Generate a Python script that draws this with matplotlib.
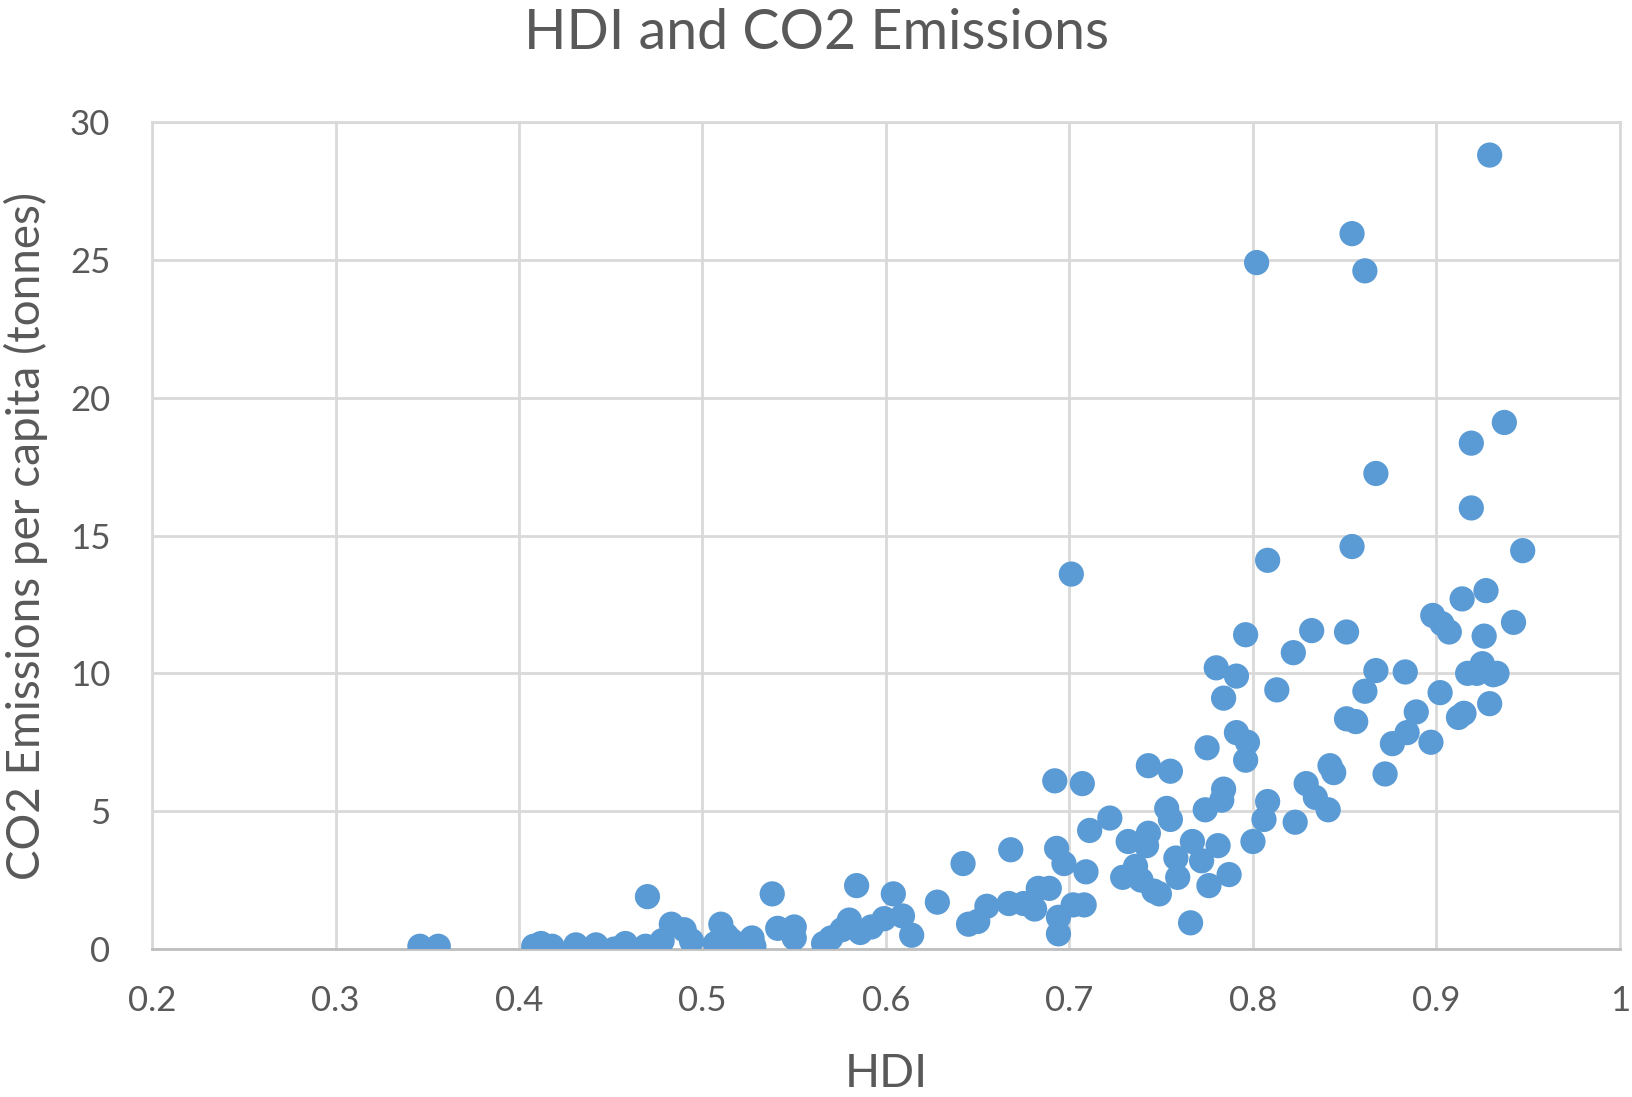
import matplotlib
matplotlib.use("Agg")
import matplotlib.pyplot as plt

hdi = [0.346, 0.356, 0.408, 0.412, 0.418, 0.431, 0.442, 0.452, 0.458, 0.469,
       0.470, 0.478, 0.483, 0.490, 0.494, 0.507, 0.510, 0.513, 0.516, 0.527,
       0.528, 0.538, 0.541, 0.550, 0.550, 0.566, 0.570, 0.576, 0.580, 0.584,
       0.586, 0.592, 0.599, 0.604, 0.609, 0.614, 0.628, 0.642, 0.645, 0.650,
       0.655, 0.667, 0.668, 0.675, 0.681, 0.683, 0.689, 0.692, 0.693, 0.694,
       0.694, 0.697, 0.701, 0.702, 0.707, 0.708, 0.709, 0.711, 0.722, 0.729,
       0.732, 0.736, 0.739, 0.742, 0.743, 0.743, 0.746, 0.749, 0.753, 0.755,
       0.755, 0.758, 0.759, 0.766, 0.767, 0.772, 0.774, 0.775, 0.776, 0.780,
       0.781, 0.783, 0.784, 0.784, 0.787, 0.791, 0.791, 0.796, 0.796, 0.797,
       0.800, 0.802, 0.806, 0.808, 0.808, 0.813, 0.822, 0.823, 0.829, 0.832,
       0.834, 0.841, 0.842, 0.844, 0.851, 0.851, 0.854, 0.854, 0.856, 0.861,
       0.861, 0.867, 0.867, 0.872, 0.876, 0.883, 0.884, 0.889, 0.897, 0.898,
       0.902, 0.903, 0.907, 0.912, 0.914, 0.915, 0.917, 0.919, 0.919, 0.922,
       0.925, 0.926, 0.927, 0.929, 0.929, 0.931, 0.933, 0.937, 0.942, 0.947]
co2 = [0.10, 0.10, 0.10, 0.20, 0.10, 0.15, 0.15, 0.00, 0.20, 0.10,
       1.90, 0.30, 0.90, 0.70, 0.30, 0.20, 0.90, 0.50, 0.30, 0.40,
       0.10, 2.00, 0.75, 0.80, 0.40, 0.20, 0.40, 0.70, 1.05, 2.30,
       0.60, 0.80, 1.10, 2.00, 1.20, 0.50, 1.70, 3.10, 0.90, 1.00,
       1.55, 1.65, 3.60, 1.65, 1.45, 2.20, 2.20, 6.10, 3.65, 0.55,
       1.15, 3.10, 13.60, 1.60, 6.00, 1.60, 2.80, 4.30, 4.75, 2.60,
       3.90, 3.00, 2.50, 3.75, 6.65, 4.20, 2.10, 2.00, 5.10, 6.45,
       4.70, 3.30, 2.60, 0.95, 3.90, 3.20, 5.05, 7.30, 2.30, 10.20,
       3.75, 5.40, 5.80, 9.10, 2.70, 9.90, 7.85, 6.85, 11.40, 7.50,
       3.90, 24.90, 4.70, 5.35, 14.10, 9.40, 10.75, 4.60, 6.00, 11.55,
       5.50, 5.05, 6.65, 6.40, 11.50, 8.35, 25.95, 14.60, 8.25, 24.60,
       9.35, 17.25, 10.10, 6.35, 7.45, 10.05, 7.85, 8.60, 7.50, 12.10,
       9.30, 11.80, 11.50, 8.40, 12.70, 8.55, 10.00, 18.35, 16.00, 10.00,
       10.35, 11.35, 13.00, 28.80, 8.90, 9.95, 10.00, 19.10, 11.85, 14.45]

x_ticks = [0.2, 0.3, 0.4, 0.5, 0.6, 0.7, 0.8, 0.9, 1.0]
x_tick_labels = ["0.2", "0.3", "0.4", "0.5", "0.6", "0.7", "0.8", "0.9", "1"]
y_ticks = [0, 5, 10, 15, 20, 25, 30]

plt.rcParams['font.family'] = ['Lato', 'DejaVu Sans']
fig = plt.figure(figsize=(16.33, 10.97), dpi=100)
ax = fig.add_axes([0.0931, 0.1349, 0.8989, 0.7539])

ax.scatter(hdi, co2, s=330, color="#5B9BD5", edgecolors="none", zorder=3)

ax.set_xlim(0.2, 1.0)
ax.set_ylim(0, 30)
ax.set_xticks(x_ticks)
ax.set_xticklabels(x_tick_labels)
ax.set_yticks(y_ticks)
ax.grid(True, color="#D9D9D9", linewidth=2, zorder=0)
ax.set_axisbelow(True)
for side, sp in ax.spines.items():
    sp.set_color("#D9D9D9")
    sp.set_linewidth(2)
ax.spines['bottom'].set_color("#BFBFBF")
ax.tick_params(axis='x', length=0, labelsize=25, colors="#595959", pad=26)
ax.tick_params(axis='y', length=0, labelsize=25, colors="#595959", pad=30)

ax.set_xlabel("HDI", fontsize=33, color="#595959", labelpad=26)
ax.set_ylabel("CO2 Emissions per capita (tonnes)", fontsize=33, color="#595959", labelpad=16)
fig.suptitle("HDI and CO2 Emissions", fontsize=40, color="#595959", y=0.993)

fig.savefig("out.png", dpi=100, facecolor="white")
